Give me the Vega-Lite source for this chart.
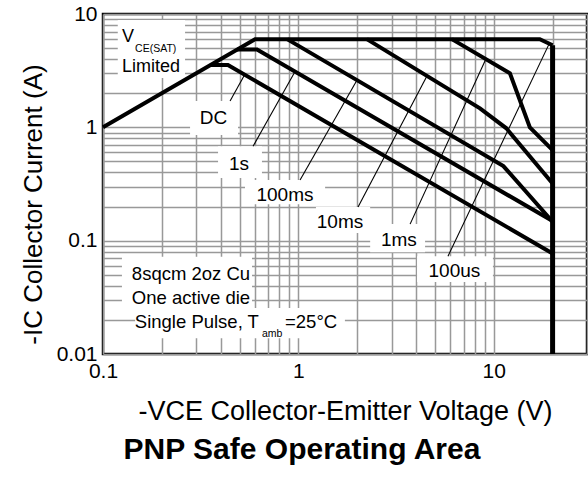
{
  "$schema": "https://vega.github.io/schema/vega-lite/v6.json",
  "width": 484,
  "height": 340,
  "autosize": {"type": "none"},
  "padding": {"left": 103, "top": 14, "right": 1, "bottom": 125},
  "background": "white",
  "config": {
    "font": "Liberation Sans",
    "view": {"stroke": "black", "strokeWidth": 2.5}
  },
  "title": {
    "text": "PNP Safe Operating Area",
    "orient": "bottom",
    "fontSize": 30,
    "fontWeight": "bold",
    "color": "black",
    "dx": -43,
    "offset": 11
  },
  "datasets": {
    "curves": [
      {"c": "sat", "o": 0, "V": 0.1, "I": 1},
      {"c": "sat", "o": 1, "V": 0.6, "I": 6},
      {"c": "sat", "o": 2, "V": 17.2, "I": 6},
      {"c": "sat", "o": 3, "V": 20, "I": 5.3},
      {"c": "DC", "o": 0, "V": 0.355, "I": 3.55},
      {"c": "DC", "o": 1, "V": 0.436, "I": 3.55},
      {"c": "DC", "o": 2, "V": 20, "I": 0.077},
      {"c": "1s", "o": 0, "V": 0.486, "I": 4.86},
      {"c": "1s", "o": 1, "V": 0.614, "I": 4.86},
      {"c": "1s", "o": 2, "V": 20, "I": 0.149},
      {"c": "100ms", "o": 0, "V": 0.875, "I": 6},
      {"c": "100ms", "o": 1, "V": 11.2, "I": 0.455},
      {"c": "100ms", "o": 2, "V": 20, "I": 0.147},
      {"c": "10ms", "o": 0, "V": 2.24, "I": 6},
      {"c": "10ms", "o": 1, "V": 8.5, "I": 1.47},
      {"c": "10ms", "o": 2, "V": 11.6, "I": 0.98},
      {"c": "10ms", "o": 3, "V": 20, "I": 0.32},
      {"c": "1ms", "o": 0, "V": 6.1, "I": 6},
      {"c": "1ms", "o": 1, "V": 12.1, "I": 3.0},
      {"c": "1ms", "o": 2, "V": 15.3, "I": 1.0},
      {"c": "1ms", "o": 3, "V": 20, "I": 0.63},
      {"c": "limit", "o": 0, "V": 20, "I": 5.3},
      {"c": "limit", "o": 1, "V": 20, "I": 0.01}
    ],
    "leaders": [
      {"c": "DC", "o": 0, "V": 0.447, "I": 1.71},
      {"c": "DC", "o": 1, "V": 0.53, "I": 2.9},
      {"c": "1s", "o": 0, "V": 0.586, "I": 0.68},
      {"c": "1s", "o": 1, "V": 0.96, "I": 3.1},
      {"c": "100ms", "o": 0, "V": 1.02, "I": 0.343},
      {"c": "100ms", "o": 1, "V": 2.0, "I": 2.63},
      {"c": "10ms", "o": 0, "V": 2.02, "I": 0.198},
      {"c": "10ms", "o": 1, "V": 4.55, "I": 2.84},
      {"c": "1ms", "o": 0, "V": 3.73, "I": 0.14},
      {"c": "1ms", "o": 1, "V": 9.1, "I": 3.98},
      {"c": "100us", "o": 0, "V": 5.83, "I": 0.073},
      {"c": "100us", "o": 1, "V": 19.2, "I": 5.45}
    ],
    "boxes": [
      {"b": "sat", "V": 0.119, "V2": 0.263, "I": 8.85, "I2": 2.72},
      {"b": "DC", "V": 0.279, "V2": 0.491, "I": 1.71, "I2": 0.855},
      {"b": "1s", "V": 0.388, "V2": 0.651, "I": 0.68, "I2": 0.357},
      {"b": "100ms", "V": 0.533, "V2": 1.37, "I": 0.343, "I2": 0.21},
      {"b": "10ms", "V": 1.23, "V2": 2.33, "I": 0.198, "I2": 0.117},
      {"b": "1ms", "V": 2.33, "V2": 4.45, "I": 0.14, "I2": 0.079},
      {"b": "100us", "V": 4.05, "V2": 9.9, "I": 0.073, "I2": 0.0432},
      {"b": "note1", "V": 0.125, "V2": 0.579, "I": 0.072, "I2": 0.0414},
      {"b": "note2", "V": 0.125, "V2": 0.579, "I": 0.0414, "I2": 0.0254},
      {"b": "note3", "V": 0.146, "V2": 1.73, "I": 0.0254, "I2": 0.0138}
    ],
    "labels": [
      {"g": "curve", "t": "DC", "V": 0.368, "I": 1.21},
      {"g": "curve", "t": "1s", "V": 0.497, "I": 0.479},
      {"g": "curve", "t": "100ms", "V": 0.854, "I": 0.255},
      {"g": "curve", "t": "10ms", "V": 1.633, "I": 0.1476},
      {"g": "curve", "t": "1ms", "V": 3.27, "I": 0.101},
      {"g": "curve", "t": "100us", "V": 6.29, "I": 0.0545},
      {"g": "satmain", "t": "V", "V": 0.1251, "I": 5.7},
      {"g": "satmain", "t": "Limited", "V": 0.125, "I": 3.05},
      {"g": "sub", "t": "CE(SAT)", "V": 0.146, "I": 4.6},
      {"g": "sub", "t": "amb", "V": 0.651, "I": 0.0141},
      {"g": "note", "t": "8sqcm 2oz Cu", "V": 0.282, "I": 0.0513},
      {"g": "note", "t": "One active die", "V": 0.282, "I": 0.0313},
      {"g": "pulseL", "t": "Single Pulse, T", "V": 0.628, "I": 0.0193},
      {"g": "pulseR", "t": "=25°C", "V": 0.854, "I": 0.0193}
    ]
  },
  "layer": [
    {
      "data": {"name": "boxes"},
      "mark": {"type": "rect", "fill": "white", "stroke": null},
      "encoding": {
        "x": {
          "field": "V", "type": "quantitative",
          "scale": {"type": "log", "domain": [0.1, 30], "nice": false},
          "axis": {
            "title": "-VCE Collector-Emitter Voltage (V)",
            "values": [0.1, 0.2, 0.3, 0.4, 0.5, 0.6, 0.7, 0.8, 0.9, 1, 2, 3, 4, 5, 6, 7, 8, 9, 10, 20, 30],
            "format": "~g",
            "labelExpr": "(datum.value == 0.1 || datum.value == 1 || datum.value == 10) ? datum.label : ''",
            "labelOverlap": false,
            "labelFlush": false,
            "labelFontSize": 21,
            "labelColor": "black",
            "labelPadding": 6,
            "ticks": false,
            "domain": false,
            "grid": true,
            "gridColor": "#999999",
            "gridWidth": 1.5,
            "gridOpacity": 1,
            "titleFontSize": 27,
            "titleFontWeight": "normal",
            "titleColor": "black",
            "titlePadding": 17
          }
        },
        "x2": {"field": "V2"},
        "y": {
          "field": "I", "type": "quantitative",
          "scale": {"type": "log", "domain": [0.01, 10], "nice": false},
          "axis": {
            "title": "-IC Collector Current (A)",
            "values": [0.01, 0.02, 0.03, 0.04, 0.05, 0.06, 0.07, 0.08, 0.09, 0.1, 0.2, 0.3, 0.4, 0.5, 0.6, 0.7, 0.8, 0.9, 1, 2, 3, 4, 5, 6, 7, 8, 9, 10],
            "format": "~g",
            "labelExpr": "(datum.value == 0.01 || datum.value == 0.1 || datum.value == 1 || datum.value == 10) ? datum.label : ''",
            "labelOverlap": false,
            "labelFlush": false,
            "labelFontSize": 21,
            "labelColor": "black",
            "labelPadding": 6,
            "ticks": false,
            "domain": false,
            "grid": true,
            "gridColor": "#999999",
            "gridWidth": 1.5,
            "gridOpacity": 1,
            "titleFontSize": 26,
            "titleFontWeight": "normal",
            "titleColor": "black",
            "titlePadding": 10,
            "titleY": 190
          }
        },
        "y2": {"field": "I2"}
      }
    },
    {
      "data": {"name": "curves"},
      "transform": [{"filter": "datum.c != 'limit'"}],
      "mark": {"type": "line", "color": "black", "strokeWidth": 4, "strokeJoin": "miter"},
      "encoding": {
        "x": {"field": "V", "type": "quantitative"},
        "y": {"field": "I", "type": "quantitative"},
        "detail": {"field": "c"},
        "order": {"field": "o"}
      }
    },
    {
      "data": {"name": "curves"},
      "transform": [{"filter": "datum.c == 'limit'"}],
      "mark": {"type": "line", "color": "black", "strokeWidth": 5, "strokeJoin": "miter"},
      "encoding": {
        "x": {"field": "V", "type": "quantitative"},
        "y": {"field": "I", "type": "quantitative"},
        "order": {"field": "o"}
      }
    },
    {
      "data": {"name": "leaders"},
      "mark": {"type": "line", "color": "black", "strokeWidth": 1.1},
      "encoding": {
        "x": {"field": "V", "type": "quantitative"},
        "y": {"field": "I", "type": "quantitative"},
        "detail": {"field": "c"},
        "order": {"field": "o"}
      }
    },
    {
      "data": {"name": "labels"},
      "transform": [{"filter": "datum.g == 'curve'"}],
      "mark": {"type": "text", "fontSize": 19, "align": "center", "baseline": "middle", "color": "black"},
      "encoding": {
        "x": {"field": "V", "type": "quantitative"},
        "y": {"field": "I", "type": "quantitative"},
        "text": {"field": "t"}
      }
    },
    {
      "data": {"name": "labels"},
      "transform": [{"filter": "datum.g == 'satmain'"}],
      "mark": {"type": "text", "fontSize": 18, "align": "left", "baseline": "alphabetic", "color": "black"},
      "encoding": {
        "x": {"field": "V", "type": "quantitative"},
        "y": {"field": "I", "type": "quantitative"},
        "text": {"field": "t"}
      }
    },
    {
      "data": {"name": "labels"},
      "transform": [{"filter": "datum.g == 'sub'"}],
      "mark": {"type": "text", "fontSize": 10.5, "align": "left", "baseline": "alphabetic", "color": "black"},
      "encoding": {
        "x": {"field": "V", "type": "quantitative"},
        "y": {"field": "I", "type": "quantitative"},
        "text": {"field": "t"}
      }
    },
    {
      "data": {"name": "labels"},
      "transform": [{"filter": "datum.g == 'note'"}],
      "mark": {"type": "text", "fontSize": 18.5, "align": "center", "baseline": "middle", "color": "black"},
      "encoding": {
        "x": {"field": "V", "type": "quantitative"},
        "y": {"field": "I", "type": "quantitative"},
        "text": {"field": "t"}
      }
    },
    {
      "data": {"name": "labels"},
      "transform": [{"filter": "datum.g == 'pulseL'"}],
      "mark": {"type": "text", "fontSize": 18.5, "align": "right", "baseline": "middle", "color": "black"},
      "encoding": {
        "x": {"field": "V", "type": "quantitative"},
        "y": {"field": "I", "type": "quantitative"},
        "text": {"field": "t"}
      }
    },
    {
      "data": {"name": "labels"},
      "transform": [{"filter": "datum.g == 'pulseR'"}],
      "mark": {"type": "text", "fontSize": 18.5, "align": "left", "baseline": "middle", "color": "black"},
      "encoding": {
        "x": {"field": "V", "type": "quantitative"},
        "y": {"field": "I", "type": "quantitative"},
        "text": {"field": "t"}
      }
    }
  ]
}
